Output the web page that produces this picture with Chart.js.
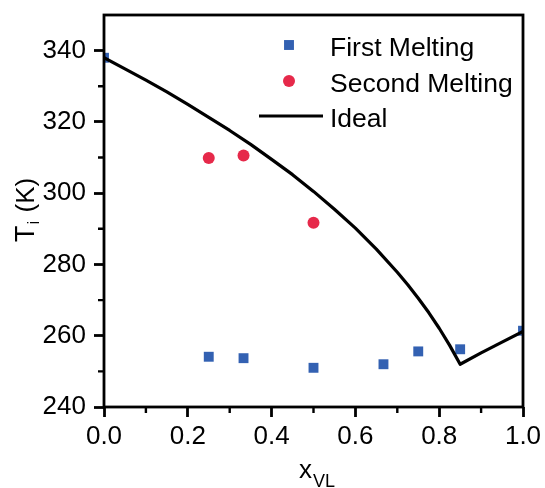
<!DOCTYPE html>
<html>
<head>
<meta charset="utf-8">
<style>
  html, body { margin: 0; padding: 0; background: #ffffff; }
  #wrap { width: 545px; height: 488px; }
</style>
<script src="https://cdn.jsdelivr.net/npm/chart.js@4/dist/chart.umd.min.js"></script>
</head>
<body>
<div id="wrap"><canvas id="phase" width="545" height="488"></canvas></div>
<script>
// Melting points (K) versus mole fraction of VL
const firstX = [0.0, 0.25, 0.333, 0.5, 0.667, 0.75, 0.85, 1.0];
const firstT = [338.0, 254.1, 253.7, 251.0, 252.0, 255.6, 256.2, 261.4];

const secondX = [0.25, 0.333, 0.5];
const secondT = [309.9, 310.6, 291.7];

// Ideal solubility (liquidus) curve with the eutectic near x = 0.85
const idealX = [0.0, 0.05, 0.1, 0.15, 0.2, 0.25, 0.3, 0.35, 0.4, 0.45, 0.5, 0.55, 0.6,
                0.65, 0.7, 0.725, 0.75, 0.775, 0.8, 0.825, 0.85, 0.9, 0.95, 1.0];
const idealT = [338.0, 334.9, 331.7, 328.4, 324.9, 321.3, 317.6, 313.7, 309.5, 305.2, 300.5, 295.5, 290.2,
                284.3, 277.8, 274.3, 270.5, 266.5, 262.1, 257.3, 252.0, 255.2, 258.2, 261.2];

// Axis ticks
const xTicks = [0.0, 0.2, 0.4, 0.6, 0.8, 1.0];
const xTickLabels = ['0.0', '0.2', '0.4', '0.6', '0.8', '1.0'];
const xMinor = [0.1, 0.3, 0.5, 0.7, 0.9];
const yTicks = [240, 260, 280, 300, 320, 340];
const yTickLabels = ['240', '260', '280', '300', '320', '340'];
const yMinor = [250, 270, 290, 310, 330];

const FONT = "'Liberation Sans', Arial, Helvetica, sans-serif";
const BLUE = '#3361b2';
const RED = '#e6294a';

const toPoints = (xs, ys) => xs.map((x, i) => ({ x: x, y: ys[i] }));

// Frame, minor ticks, axis titles with subscripts, and the in-plot legend
const decorations = {
  id: 'decorations',
  afterDatasetsDraw(chart) {
    const { ctx, chartArea: a } = chart;
    ctx.save();
    ctx.strokeStyle = '#000';
    ctx.lineWidth = 2.8;
    ctx.strokeRect(a.left, a.top, a.right - a.left, a.bottom - a.top);
    ctx.restore();
  },
  afterDraw(chart) {
    const { ctx, chartArea: a, scales } = chart;
    ctx.save();
    // minor ticks (outward)
    ctx.strokeStyle = '#000';
    ctx.lineWidth = 2.4;
    ctx.beginPath();
    xMinor.forEach(v => {
      const px = scales.x.getPixelForValue(v);
      ctx.moveTo(px, a.bottom);
      ctx.lineTo(px, a.bottom + 6);
    });
    yMinor.forEach(v => {
      const py = scales.y.getPixelForValue(v);
      ctx.moveTo(a.left, py);
      ctx.lineTo(a.left - 6, py);
    });
    ctx.stroke();

    ctx.fillStyle = '#000';
    ctx.textAlign = 'left';
    ctx.textBaseline = 'alphabetic';

    // x axis title: x_VL
    ctx.font = '26px ' + FONT;
    ctx.fillText('x', 299, 478);
    const wx = ctx.measureText('x').width;
    ctx.font = '18px ' + FONT;
    ctx.fillText('VL', 299 + wx + 1, 486.5);

    // y axis title: T_i (K)
    ctx.save();
    ctx.translate(34, 242);
    ctx.rotate(-Math.PI / 2);
    ctx.font = '27px ' + FONT;
    ctx.fillText('T', 0, 0);
    const wt = ctx.measureText('T').width;
    ctx.font = '17px ' + FONT;
    ctx.fillText('i', wt + 1, 5);
    const wi = ctx.measureText('i').width;
    ctx.font = '26px ' + FONT;
    ctx.fillText(' (K)', wt + wi + 2, 0);
    ctx.restore();

    // legend
    const rows = [45, 81, 116];
    const markX = 289;
    chart.data.datasets.forEach((ds, i) => {
      const y = rows[i];
      if (ds.showLine) {
        ctx.strokeStyle = ds.borderColor;
        ctx.lineWidth = ds.borderWidth;
        ctx.beginPath();
        ctx.moveTo(259, y);
        ctx.lineTo(323, y);
        ctx.stroke();
      } else {
        ctx.fillStyle = ds.backgroundColor;
        if (ds.pointStyle === 'rect') {
          const s = ds.pointRadius * Math.SQRT1_2;
          ctx.fillRect(markX - s, y - s, 2 * s, 2 * s);
        } else {
          ctx.beginPath();
          ctx.arc(markX, y, ds.pointRadius, 0, Math.PI * 2);
          ctx.fill();
        }
      }
      ctx.fillStyle = '#000';
      ctx.font = '26.5px ' + FONT;
      ctx.fillText(ds.label, 330, y + 10.5);
    });
    ctx.restore();
  }
};

new Chart(document.getElementById('phase'), {
  type: 'scatter',
  data: {
    datasets: [
      {
        label: 'First Melting',
        data: toPoints(firstX, firstT),
        pointStyle: 'rect',
        pointRadius: 7,
        pointHoverRadius: 7,
        backgroundColor: BLUE,
        borderColor: BLUE,
        borderWidth: 0,
        showLine: false,
        clip: 0,
        order: 2
      },
      {
        label: 'Second Melting',
        data: toPoints(secondX, secondT),
        pointStyle: 'circle',
        pointRadius: 6,
        pointHoverRadius: 6,
        backgroundColor: RED,
        borderColor: RED,
        borderWidth: 0,
        showLine: false,
        clip: 0,
        order: 1
      },
      {
        label: 'Ideal',
        data: toPoints(idealX, idealT),
        showLine: true,
        borderColor: '#000000',
        backgroundColor: '#000000',
        borderWidth: 3.2,
        pointRadius: 0,
        pointHoverRadius: 0,
        tension: 0,
        borderJoinStyle: 'round',
        clip: 0,
        order: 0
      }
    ]
  },
  options: {
    responsive: false,
    animation: false,
    devicePixelRatio: 1,
    layout: { padding: { left: 0, top: 15, right: 22, bottom: 0 } },
    plugins: {
      legend: { display: false },
      tooltip: { enabled: false },
      title: { display: false }
    },
    scales: {
      x: {
        type: 'linear',
        min: 0,
        max: 1,
        afterBuildTicks: s => { s.ticks = xTicks.map(v => ({ value: v })); },
        afterFit: s => { s.height = 81; s.paddingLeft = 0; s.paddingRight = 0; },
        ticks: {
          callback: (v, i) => xTickLabels[i],
          color: '#000',
          font: { family: FONT, size: 26 },
          padding: 4,
          maxRotation: 0,
          autoSkip: false
        },
        grid: {
          display: true,
          drawOnChartArea: false,
          drawTicks: true,
          tickLength: 10,
          tickWidth: 2.8,
          tickColor: '#000'
        },
        border: { display: false },
        title: { display: false }
      },
      y: {
        type: 'linear',
        min: 240,
        max: 350,
        afterBuildTicks: s => { s.ticks = yTicks.map(v => ({ value: v })); },
        afterFit: s => { s.width = 104; s.paddingTop = 0; s.paddingBottom = 0; },
        ticks: {
          callback: (v, i) => yTickLabels[i],
          color: '#000',
          font: { family: FONT, size: 26 },
          padding: 8,
          autoSkip: false
        },
        grid: {
          display: true,
          drawOnChartArea: false,
          drawTicks: true,
          tickLength: 10,
          tickWidth: 2.8,
          tickColor: '#000'
        },
        border: { display: false },
        title: { display: false }
      }
    }
  },
  plugins: [decorations]
});
</script>
</body>
</html>
